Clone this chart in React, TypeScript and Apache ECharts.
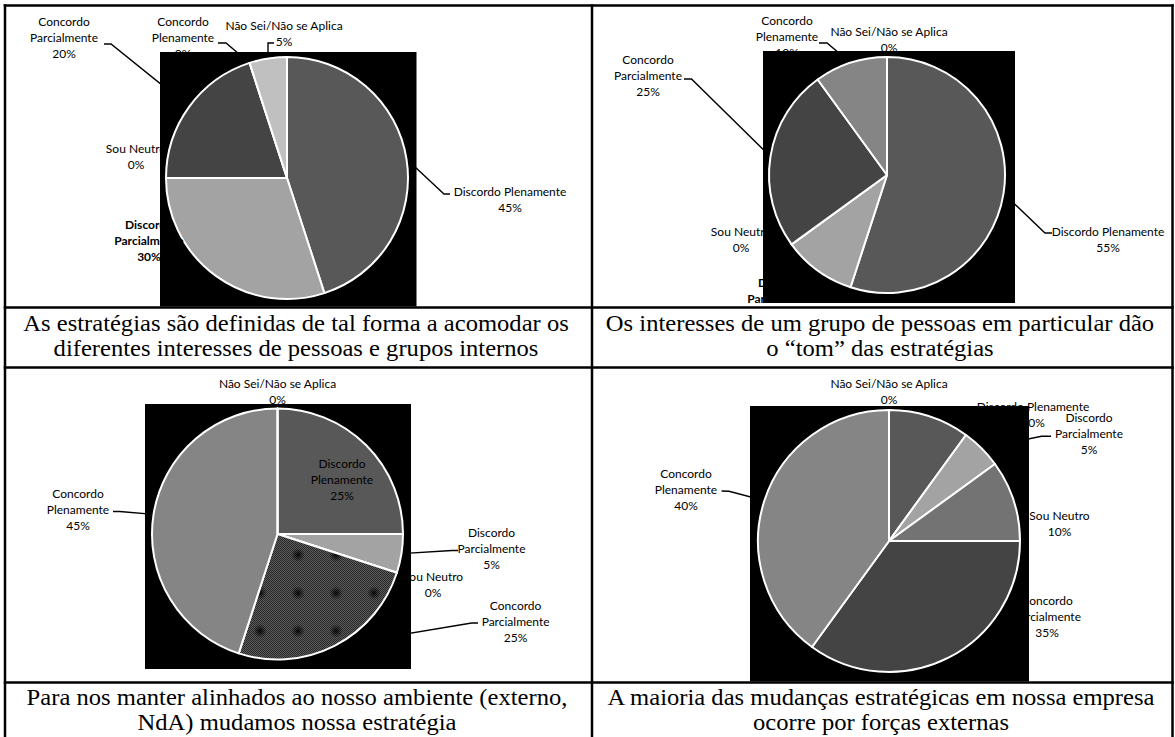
import React, { useEffect, useRef } from 'react';
import * as echarts from 'echarts';

// Answer categories, in the order the slices run clockwise from 12 o'clock
const categories = [
  'Discordo Plenamente',
  'Discordo Parcialmente',
  'Sou Neutro',
  'Concordo Parcialmente',
  'Concordo Plenamente',
  'Não Sei/Não se Aplica',
];

// Share of answers (%) for each statement
const accommodateShares = [45, 30, 0, 20, 0, 5];
const groupToneShares = [55, 10, 0, 25, 10, 0];
const alignedShares = [25, 5, 0, 25, 45, 0];
const externalShares = [10, 5, 10, 35, 40, 0];

const captions = [
  'As estratégias são definidas de tal forma a acomodar os\ndiferentes interesses de pessoas e grupos internos',
  'Os interesses de um grupo de pessoas em particular dão\no “tom” das estratégias',
  'Para nos manter alinhados ao nosso ambiente (externo,\nNdA) mudamos nossa estratégia',
  'A maioria das mudanças estratégicas em nossa empresa\nocorre por forças externas',
];

const sliceColors = ['#585858', '#a3a3a3', '#737373', '#444444', '#858585', '#c0c0c0'];

type Spot = { x: number; y: number; wrap?: boolean; bold?: boolean; line?: number[][] };
type Panel = {
  values: number[];
  center: number[];
  radius: number;
  backdrop: number[];
  caption: number[];
  spots: Spot[];
};

const panels: Panel[] = [
  {
    values: accommodateShares,
    center: [287, 178],
    radius: 121,
    backdrop: [160, 52, 256.5, 254.5],
    caption: [296, 335.5],
    spots: [
      { x: 510, y: 199.5, line: [[444, 194], [450, 194]] },
      { x: 149, y: 240, wrap: true, bold: true },
      { x: 136, y: 156 },
      { x: 64, y: 37, wrap: true, line: [[111, 44], [104, 44]] },
      { x: 183, y: 37, wrap: true, line: [[226, 43], [218, 43]] },
      { x: 284, y: 33, line: [[268, 43], [274, 43]] },
    ],
  },
  {
    values: groupToneShares,
    center: [887, 175],
    radius: 118,
    backdrop: [763, 51, 252, 252],
    caption: [880, 335.5],
    spots: [
      { x: 1108, y: 239.5, line: [[1045, 233], [1052, 233]] },
      { x: 782, y: 298, wrap: true, bold: true },
      { x: 741, y: 239 },
      { x: 648, y: 75, wrap: true, line: [[691.5, 79], [684, 79]] },
      { x: 787, y: 36, wrap: true, line: [[827, 43], [819, 43]] },
      { x: 889, y: 39 },
    ],
  },
  {
    values: alignedShares,
    center: [277.5, 534],
    radius: 125.5,
    backdrop: [145, 404, 266, 265],
    caption: [297, 710],
    spots: [
      { x: 342, y: 479.5, wrap: true },
      { x: 491.5, y: 548.7, wrap: true, line: [[452, 550.5], [458, 550.5]] },
      { x: 433, y: 584.7 },
      { x: 515.6, y: 621.3, wrap: true, line: [[471.6, 623], [478, 623]] },
      { x: 78, y: 509.3, wrap: true, line: [[119.7, 511.5], [113, 511.5]] },
      { x: 277.5, y: 391.5 },
    ],
  },
  {
    values: externalShares,
    center: [889, 541],
    radius: 131,
    backdrop: [750, 406, 279, 275.5],
    caption: [881, 710],
    spots: [
      { x: 1033, y: 414 },
      { x: 1089, y: 433, wrap: true, line: [[1041.5, 436.3], [1051, 436.3]] },
      { x: 1059.5, y: 523.3 },
      { x: 1047, y: 616.5, wrap: true },
      { x: 686, y: 489.7, wrap: true, line: [[729, 491.3], [721.6, 491]] },
      { x: 889, y: 391.7 },
    ],
  },
];

// Dithered fill with dark blots, used for one slice
function makeDotTile(): HTMLCanvasElement {
  const size = 38;
  const c = document.createElement('canvas');
  c.width = size;
  c.height = size;
  const g = c.getContext('2d')!;
  for (let y = 0; y < size; y++) {
    for (let x = 0; x < size; x++) {
      g.fillStyle = (x + y) % 2 ? '#5e5e5e' : '#262626';
      g.fillRect(x, y, 1, 1);
    }
  }
  const offsets = [0, -size, size];
  for (const ox of offsets) {
    for (const oy of offsets) {
      const cx = 32 + ox;
      const cy = 23 + oy;
      const grad = g.createRadialGradient(cx, cy, 0, cx, cy, 7);
      grad.addColorStop(0, 'rgba(0,0,0,0.9)');
      grad.addColorStop(0.45, 'rgba(0,0,0,0.45)');
      grad.addColorStop(1, 'rgba(0,0,0,0)');
      g.fillStyle = grad;
      g.fillRect(cx - 7, cy - 7, 14, 14);
    }
  }
  return c;
}

const labelFont = {
  fontFamily: 'Lato',
  fontSize: 12,
  lineHeight: 16,
  color: '#000',
};

export default function App() {
  const ref = useRef<HTMLDivElement>(null);

  useEffect(() => {
    const el = ref.current;
    if (!el) return;
    const chart = echarts.init(el, null, { renderer: 'svg' });
    const dotted = { image: makeDotTile(), repeat: 'repeat' };

    const series: any[] = panels.map((p, pi) => {
      const formatter = (prm: any) => {
        const s = p.spots[prm.dataIndex];
        const name = s.wrap ? String(prm.name).replace(' ', '\n') : prm.name;
        return `${name}\n${prm.value}%`;
      };
      const layout = (prm: any) => {
        const s = p.spots[prm.dataIndex];
        const res: any = { x: s.x, y: s.y, align: 'center', verticalAlign: 'middle' };
        if (s.line && prm.labelLinePoints) {
          res.labelLinePoints = [prm.labelLinePoints[0], s.line[0], s.line[1]];
        }
        return res;
      };
      return {
        type: 'pie',
        z: 10,
        center: p.center,
        radius: p.radius,
        startAngle: 90,
        clockwise: true,
        avoidLabelOverlap: false,
        silent: true,
        emphasis: { disabled: true },
        labelLayout: layout,
        itemStyle: { borderColor: '#ffffff', borderWidth: 2 },
        label: { show: true, position: 'outside', formatter, ...labelFont },
        labelLine: { show: true, smooth: false, length: 8, length2: 8, lineStyle: { color: '#000', width: 1.4 } },
        data: categories.map((name, i) => ({
          name,
          value: p.values[i],
          itemStyle: { color: pi === 2 && i === 3 ? dotted : sliceColors[i] },
          label: { fontWeight: p.spots[i].bold ? 'bold' : 'normal' },
          labelLine: { show: !!p.spots[i].line },
        })),
      };
    });

    const graphic: any[] = [];
    panels.forEach((p, pi) => {
      // dark plot backdrop behind each pie
      graphic.push({
        type: 'rect',
        z: 5,
        silent: true,
        shape: { x: p.backdrop[0], y: p.backdrop[1], width: p.backdrop[2], height: p.backdrop[3] },
        style: { fill: '#000' },
      });
      graphic.push({
        type: 'text',
        z: 12,
        silent: true,
        x: p.caption[0],
        y: p.caption[1],
        scaleX: 1.07,
        style: {
          text: captions[pi],
          fontFamily: 'Liberation Serif',
          fontSize: 23,
          lineHeight: 25,
          align: 'center',
          verticalAlign: 'middle',
          fill: '#000',
        },
      });
    });
    // caption rows are plain white cells
    graphic.push(
      { type: 'rect', z: 11, silent: true, shape: { x: 0, y: 308.75, width: 1175, height: 57.5 }, style: { fill: '#fff' } },
      { type: 'rect', z: 11, silent: true, shape: { x: 0, y: 683.75, width: 1175, height: 60 }, style: { fill: '#fff' } }
    );
    // table rules
    const rule = { stroke: '#000', lineWidth: 2.5 };
    [5.5, 307.5, 367.5, 682.5].forEach((y) =>
      graphic.push({ type: 'line', z: 13, silent: true, shape: { x1: 3.75, y1: y, x2: 1173.75, y2: y }, style: rule })
    );
    [5, 592, 1172.5].forEach((x) =>
      graphic.push({ type: 'line', z: 13, silent: true, shape: { x1: x, y1: 4.25, x2: x, y2: 737 }, style: rule })
    );

    chart.setOption({
      animation: false,
      backgroundColor: '#ffffff',
      series,
      graphic: { elements: graphic },
    });
    return () => chart.dispose();
  }, []);

  return (
    <div
      ref={ref}
      style={{ position: 'fixed', left: 0, top: 0, width: 1175, height: 737, background: '#fff' }}
    />
  );
}
